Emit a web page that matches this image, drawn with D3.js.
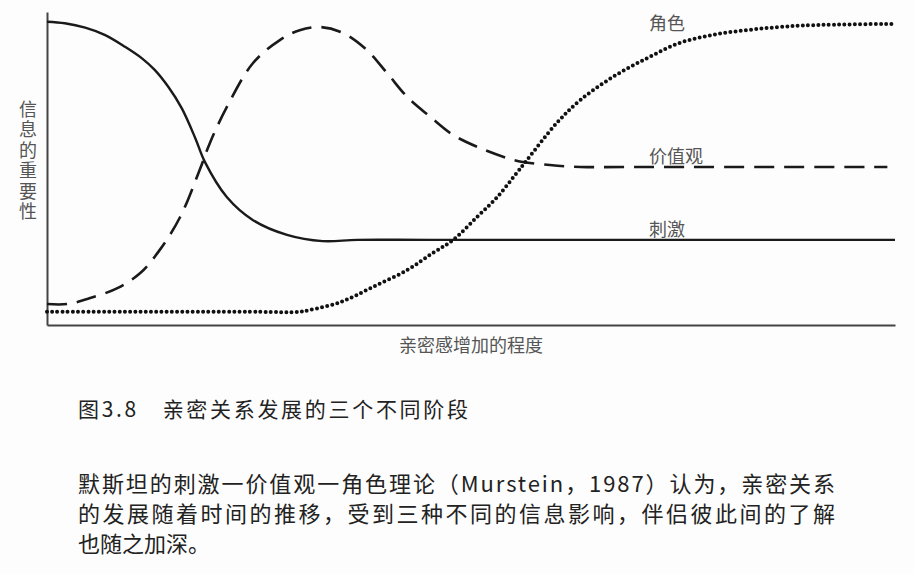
<!DOCTYPE html>
<html>
<head>
<meta charset="utf-8">
<script src="https://cdn.jsdelivr.net/npm/d3@7"></script>
<style>
  html, body { margin: 0; padding: 0; background: #fdfdfd; }
  svg { display: block; }
</style>
</head>
<body>
<script>
// ---- data (x: intimacy level 0-100, y: importance 0-100) ----
const stimulusX = [0, 2.1, 4.5, 6.8, 9.2, 11.2, 12.7, 14.3, 15.9, 17.5, 18.6, 21.2, 24.3, 28.3, 32.5, 36.6, 45, 100];
const stimulusY = [96.9, 96.4, 95.0, 92.7, 88.9, 85.2, 81.5, 76.1, 69.2, 59.6, 52.2, 40.9, 33.5, 28.8, 26.8, 27.2, 27.2, 27.2];

const valueX = [0, 2.4, 5.1, 8.3, 11.0, 13.3, 15.7, 18.0, 19.2, 21.2, 24.3, 27.5, 29.8, 32.2, 34.9, 37.7, 40.1, 42.5, 45.2, 47.9, 51.1, 54.2, 56.1, 59.3, 62.9, 70, 99.1];
const valueY = [6.7, 6.7, 8.6, 11.8, 16.6, 24.0, 34.5, 49.5, 58.1, 69.6, 83.7, 91.1, 94.2, 95.2, 93.3, 87.9, 80.5, 72.8, 66.5, 60.7, 56.5, 53.4, 52.1, 51.1, 50.5, 50.5, 50.5];

const roleX = [0, 25, 29.8, 31.0, 34.6, 38.4, 42.5, 45.5, 47.9, 50.7, 53.1, 55.4, 56.6, 60.1, 62.9, 66.7, 70.8, 74.6, 78.5, 82.5, 86.4, 90.3, 99.8];
const roleY = [4.2, 4.2, 4.2, 4.8, 7.3, 12.1, 17.6, 23.0, 27.2, 34.5, 40.9, 48.6, 52.7, 64.5, 71.9, 79.2, 85.3, 90.1, 92.7, 94.2, 95.2, 95.8, 96.2];

const seriesNames = ["刺激", "价值观", "角色"];
const yAxisLabel = "信息的重要性";
const xAxisLabel = "亲密感增加的程度";
const captionText = "图3.8　亲密关系发展的三个不同阶段";
const bodyLines = [
  "默斯坦的刺激一价值观一角色理论（Murstein，1987）认为，亲密关系",
  "的发展随着时间的推移，受到三种不同的信息影响，伴侣彼此间的了解",
  "也随之加深。"
];

// ---- drawing ----
const W = 914, H = 574;
const svg = d3.select("body").append("svg").attr("width", W).attr("height", H);
svg.append("rect").attr("width", W).attr("height", H).attr("fill", "#fdfdfd");

const x = d3.scaleLinear().domain([0, 100]).range([47, 895]);
const y = d3.scaleLinear().domain([0, 100]).range([325, 12]);

const labelFont = "'Noto Sans CJK SC', 'Noto Sans', sans-serif";

// axes
const xAxis = svg.append("g").attr("transform", `translate(0,${y(0)})`)
  .call(d3.axisBottom(x).ticks(0).tickSizeOuter(0));
const yAxis = svg.append("g").attr("transform", `translate(${x(0)},0)`)
  .call(d3.axisLeft(y).ticks(0).tickSizeOuter(0));
[xAxis, yAxis].forEach(g => g.select(".domain").attr("stroke", "#444").attr("stroke-width", 2));

const line = d3.line().x(d => x(d[0])).y(d => y(d[1])).curve(d3.curveCatmullRom.alpha(0.5));
const zip = (a, b) => a.map((v, i) => [v, b[i]]);

svg.append("path").datum(zip(stimulusX, stimulusY)).attr("d", line)
  .attr("fill", "none").attr("stroke", "#1a1a1a").attr("stroke-width", 2.4);
svg.append("path").datum(zip(valueX, valueY)).attr("d", line)
  .attr("fill", "none").attr("stroke", "#1a1a1a").attr("stroke-width", 2.6)
  .attr("stroke-dasharray", "20 10");
svg.append("path").datum(zip(roleX, roleY)).attr("d", line)
  .attr("fill", "none").attr("stroke", "#111").attr("stroke-width", 4)
  .attr("stroke-linecap", "round").attr("stroke-dasharray", "0 5.2");

// series labels
const labelPos = [[x(71), y(28.3)], [x(71), y(51.6)], [x(71), y(94.2)]];
seriesNames.forEach((n, i) => {
  svg.append("text").attr("x", labelPos[i][0]).attr("y", labelPos[i][1])
    .attr("font-family", labelFont).attr("font-size", 18).attr("fill", "#555")
    .text(n);
});

// y axis label (vertical)
svg.append("text").attr("x", 28).attr("y", 100)
  .attr("writing-mode", "tb").style("writing-mode", "vertical-rl")
  .style("text-orientation", "upright")
  .attr("letter-spacing", 2.5)
  .attr("font-family", labelFont).attr("font-size", 18).attr("fill", "#555")
  .text(yAxisLabel);

// x axis label
svg.append("text").attr("x", (x(0) + x(100)) / 2).attr("y", 352)
  .attr("text-anchor", "middle").attr("font-family", labelFont)
  .attr("font-size", 18).attr("fill", "#555").text(xAxisLabel);

// caption
svg.append("text").attr("x", 78).attr("y", 417)
  .attr("font-family", labelFont).attr("font-size", 21).attr("fill", "#222")
  .attr("textLength", 390).attr("lengthAdjust", "spacing").text(captionText);

// body paragraph
const bodyLens = [757, 757, 0];
bodyLines.forEach((t, i) => {
  const tx = svg.append("text").attr("x", 78).attr("y", 492 + i * 30)
    .attr("font-family", labelFont).attr("font-size", 22).attr("fill", "#222").text(t);
  if (bodyLens[i]) tx.attr("textLength", bodyLens[i]).attr("lengthAdjust", "spacing");
});
</script>
</body>
</html>
